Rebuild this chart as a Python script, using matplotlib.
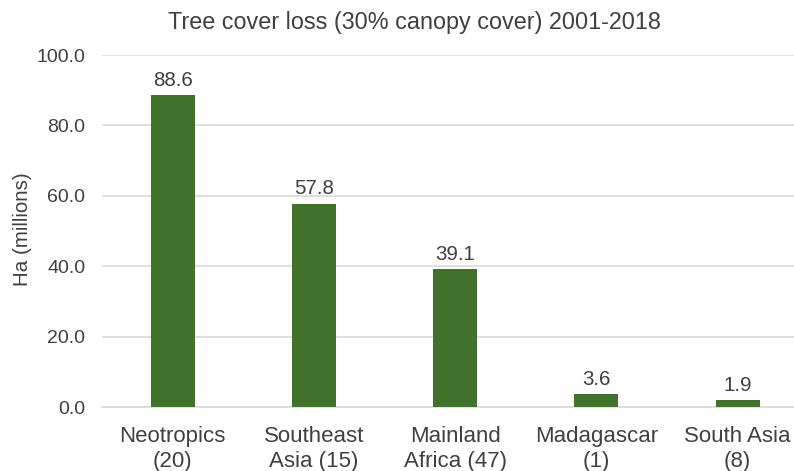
import matplotlib
matplotlib.use("Agg")
import matplotlib.pyplot as plt

# Tree cover loss by region (millions of hectares)
regions = ["Neotropics\n(20)", "Southeast\nAsia (15)", "Mainland\nAfrica (47)",
           "Madagascar\n(1)", "South Asia\n(8)"]
loss_mha = [88.6, 57.8, 39.1, 3.6, 1.9]
y_ticks = [0, 20, 40, 60, 80, 100]

plt.rcParams["font.family"] = ["Liberation Sans", "DejaVu Sans"]
text_color = "#404040"
bar_color = "#41722B"

fig = plt.figure(figsize=(7.94, 4.71), dpi=100)
ax = fig.add_axes([102 / 794, 1 - 407 / 471, 692 / 794, (407 - 55) / 471])

x = list(range(len(regions)))
ax.bar(x, loss_mha, width=0.31, color=bar_color, zorder=3)

for xi, v in zip(x, loss_mha):
    ax.annotate(f"{v:.1f}", (xi, v), xytext=(0, 4), textcoords="offset points",
                ha="center", va="bottom", fontsize=14.8, color=text_color)

ax.set_ylim(0, 100)
ax.set_xlim(-0.5, -0.5 + 692 / 141.25)
ax.set_yticks(y_ticks)
ax.set_yticklabels([f"{t:.1f}" for t in y_ticks], fontsize=14, color=text_color)
ax.set_xticks(x)
ax.set_xticklabels(regions, fontsize=16, color=text_color, linespacing=1.2)
ax.tick_params(axis="both", length=0)
ax.tick_params(axis="y", pad=12)
ax.tick_params(axis="x", pad=14)

ax.grid(axis="y", color="#D9D9D9", linewidth=1.2, zorder=0)
for side in ["top", "right", "left"]:
    ax.spines[side].set_visible(False)
ax.spines["bottom"].set_color("#D9D9D9")
ax.spines["bottom"].set_linewidth(1.2)

fig.text(23 / 794, 1 - 229 / 471, "Ha (millions)", rotation=90, ha="center",
         va="center", fontsize=14.8, color=text_color)
fig.text(414 / 794, 1 - 22 / 471, "Tree cover loss (30% canopy cover) 2001-2018",
         ha="center", va="center", fontsize=16.8, color=text_color)

fig.savefig("out.png", dpi=100)
